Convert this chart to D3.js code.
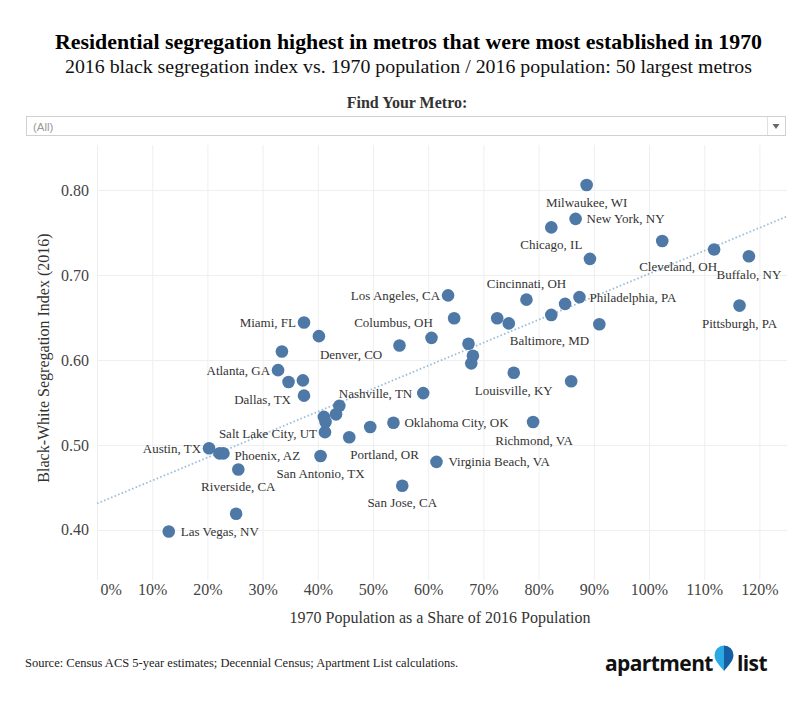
<!DOCTYPE html>
<html>
<head>
<meta charset="utf-8">
<script src="https://cdn.jsdelivr.net/npm/d3@7"></script>
<style>
  body { margin: 0; background: #fff; }
  svg text { font-family: "Liberation Serif", "Times New Roman", serif; }
</style>
</head>
<body>
<svg></svg>
<script>
var metros = [
  'Milwaukee, WI', 'New York, NY', 'Chicago, IL', 'Detroit, MI', 'Cleveland, OH',
  'Buffalo, NY', 'St. Louis, MO', 'Pittsburgh, PA', 'Cincinnati, OH', 'Philadelphia, PA',
  'Hartford, CT', 'Memphis, TN', 'Birmingham, AL', 'Baltimore, MD', 'New Orleans, LA',
  'Los Angeles, CA', 'Washington, DC', 'Indianapolis, IN', 'Columbus, OH', 'Kansas City, MO',
  'San Francisco, CA', 'Boston, MA', 'Louisville, KY', 'Providence, RI', 'Miami, FL',
  'Denver, CO', 'Houston, TX', 'Atlanta, GA', 'Tampa, FL', 'Jacksonville, FL',
  'Dallas, TX', 'Nashville, TN', 'Charlotte, NC', 'Sacramento, CA', 'Seattle, WA',
  'Minneapolis, MN', 'Salt Lake City, UT', 'Portland, OR', 'San Diego, CA', 'Oklahoma City, OK',
  'San Antonio, TX', 'Virginia Beach, VA', 'Richmond, VA', 'San Jose, CA', 'Austin, TX',
  'Orlando, FL', 'Phoenix, AZ', 'Riverside, CA', 'Raleigh, NC', 'Las Vegas, NV'
];

// 1970 population as a share of 2016 population
var share1970 = [
  0.887, 0.867, 0.823, 1.024, 1.118,
  1.181, 0.893, 1.164, 0.778, 0.874,
  0.848, 0.823, 0.725, 0.746, 0.910,
  0.636, 0.647, 0.606, 0.548, 0.673,
  0.681, 0.678, 0.755, 0.859, 0.375,
  0.402, 0.335, 0.328, 0.347, 0.373,
  0.375, 0.591, 0.439, 0.433, 0.411,
  0.414, 0.413, 0.457, 0.495, 0.537,
  0.405, 0.615, 0.790, 0.553, 0.203,
  0.222, 0.229, 0.256, 0.252, 0.130
];

// black-white segregation index (2016)
var segIndex = [
  0.806, 0.766, 0.756, 0.740, 0.730,
  0.722, 0.719, 0.664, 0.671, 0.674,
  0.666, 0.653, 0.649, 0.643, 0.642,
  0.676, 0.649, 0.626, 0.617, 0.619,
  0.605, 0.596, 0.585, 0.575, 0.644,
  0.628, 0.610, 0.588, 0.574, 0.576,
  0.558, 0.561, 0.546, 0.536, 0.533,
  0.527, 0.515, 0.509, 0.521, 0.526,
  0.487, 0.480, 0.527, 0.452, 0.496,
  0.490, 0.490, 0.471, 0.419, 0.398
];

var xTicks = [0, 0.1, 0.2, 0.3, 0.4, 0.5, 0.6, 0.7, 0.8, 0.9, 1.0, 1.1, 1.2];
var yTicks = [0.4, 0.5, 0.6, 0.7, 0.8];

// trend line
var trendX = [0, 1.25];
var trendY = [0.431, 0.769];

// which metros get a visible label, and where: [anchor, dx, dy]
var labelPos = {
  'Milwaukee, WI': ['middle', 0, 18],
  'New York, NY': ['start', 11, 0],
  'Chicago, IL': ['middle', 0, 17],
  'Cleveland, OH': ['end', 3, 17],
  'Buffalo, NY': ['middle', 0, 18],
  'Pittsburgh, PA': ['middle', 0, 18],
  'Cincinnati, OH': ['middle', 0, -16],
  'Philadelphia, PA': ['start', 10, 0],
  'Baltimore, MD': ['start', 1, 17],
  'Los Angeles, CA': ['end', -8, 0],
  'Columbus, OH': ['middle', -6, -23],
  'Louisville, KY': ['middle', 0, 17.5],
  'Miami, FL': ['end', -8, 0],
  'Denver, CO': ['start', 1, 18],
  'Atlanta, GA': ['end', -8, 0],
  'Dallas, TX': ['end', -13, 4],
  'Nashville, TN': ['end', -11, 0],
  'Salt Lake City, UT': ['end', -8, 1],
  'Portland, OR': ['start', 1, 17],
  'Oklahoma City, OK': ['start', 11, 0],
  'San Antonio, TX': ['middle', 0, 17],
  'Virginia Beach, VA': ['start', 12, 0],
  'Richmond, VA': ['middle', 1, 18],
  'San Jose, CA': ['middle', 0, 17],
  'Austin, TX': ['end', -8, 0],
  'Phoenix, AZ': ['start', 11, 2],
  'Riverside, CA': ['middle', 0, 17],
  'Las Vegas, NV': ['start', 12, 0]
};

var width = 800;
var height = 712;
var plot = { left: 97, right: 787, top: 145, bottom: 580 };

var svg = d3.select('svg')
  .attr('width', width)
  .attr('height', height);

svg.append('rect')
  .attr('width', width)
  .attr('height', height)
  .attr('fill', '#fff');

var points = metros.map(function(name, i) {
  return { name: name, x: share1970[i], y: segIndex[i] };
});

var xScale = d3.scaleLinear()
  .domain([0, 1.25])
  .range([plot.left, plot.right]);

var yScale = d3.scaleLinear()
  .domain([0.341, 0.853])
  .range([plot.bottom, plot.top]);

// titles
svg.append('text')
  .attr('x', 408.5)
  .attr('y', 49)
  .attr('text-anchor', 'middle')
  .attr('textLength', 707)
  .attr('lengthAdjust', 'spacingAndGlyphs')
  .style('font-size', '21px')
  .style('font-weight', 'bold')
  .attr('fill', '#000')
  .text('Residential segregation highest in metros that were most established in 1970');

svg.append('text')
  .attr('x', 408.5)
  .attr('y', 73)
  .attr('text-anchor', 'middle')
  .attr('textLength', 687)
  .attr('lengthAdjust', 'spacingAndGlyphs')
  .style('font-size', '19px')
  .attr('fill', '#111')
  .text('2016 black segregation index vs. 1970 population / 2016 population: 50 largest metros');

// filter box
svg.append('text')
  .attr('x', 407)
  .attr('y', 108)
  .attr('text-anchor', 'middle')
  .style('font-size', '16px')
  .style('font-weight', 'bold')
  .attr('fill', '#333')
  .text('Find Your Metro:');

var dd = svg.append('g').attr('class', 'dropdown');
dd.append('rect')
  .attr('x', 26.5).attr('y', 116.5)
  .attr('width', 759).attr('height', 19)
  .attr('fill', '#fff')
  .attr('stroke', '#d0d0d0');
dd.append('line')
  .attr('x1', 767.5).attr('x2', 767.5)
  .attr('y1', 117).attr('y2', 135)
  .attr('stroke', '#e0e0e0');
dd.append('text')
  .attr('x', 33).attr('y', 131)
  .style('font-family', '"Liberation Sans", Arial, sans-serif')
  .style('font-size', '11.5px')
  .attr('fill', '#999')
  .text('(All)');
dd.append('path')
  .attr('d', 'M772.5,124 L779.5,124 L776,129 Z')
  .attr('fill', '#666');

// gridlines
svg.append('g')
  .selectAll('line')
  .data(xTicks)
  .enter()
  .append('line')
    .attr('x1', d => xScale(d) + 0.5)
    .attr('x2', d => xScale(d) + 0.5)
    .attr('y1', plot.top)
    .attr('y2', plot.bottom)
    .attr('stroke', '#efefef');

svg.append('g')
  .selectAll('line')
  .data(yTicks)
  .enter()
  .append('line')
    .attr('x1', plot.left)
    .attr('x2', plot.right)
    .attr('y1', d => Math.round(yScale(d)) + 0.5)
    .attr('y2', d => Math.round(yScale(d)) + 0.5)
    .attr('stroke', '#efefef');

// axes
var xAxis = svg.append('g')
  .attr('class', 'x-axis')
  .attr('transform', `translate(0, ${plot.bottom})`)
  .call(d3.axisBottom(xScale).tickValues(xTicks).tickFormat(d3.format('.0%')).tickSize(0).tickPadding(4));
xAxis.select('.domain').remove();
xAxis.selectAll('text')
  .style('font-family', '"Liberation Serif", serif')
  .style('font-size', '16px')
  .attr('fill', '#444')
  .filter(d => d === 0)
    .attr('text-anchor', 'start')
    .attr('x', 3);

var yAxis = svg.append('g')
  .attr('class', 'y-axis')
  .attr('transform', `translate(${plot.left}, 0)`)
  .call(d3.axisLeft(yScale).tickValues(yTicks).tickFormat(d3.format('.2f')).tickSize(0).tickPadding(8));
yAxis.select('.domain').remove();
yAxis.selectAll('text')
  .style('font-family', '"Liberation Serif", serif')
  .style('font-size', '16px')
  .attr('fill', '#444');

svg.append('text')
  .attr('x', (plot.left + plot.right) / 2 - 2)
  .attr('y', 623)
  .attr('text-anchor', 'middle')
  .style('font-size', '16px')
  .attr('fill', '#333')
  .text('1970 Population as a Share of 2016 Population');

svg.append('text')
  .attr('transform', 'translate(49, 358) rotate(-90)')
  .attr('text-anchor', 'middle')
  .style('font-size', '16px')
  .attr('fill', '#333')
  .text('Black-White Segregation Index (2016)');

// trend line
svg.append('path')
  .datum(trendX.map((x, i) => [x, trendY[i]]))
  .attr('d', d3.line().x(d => xScale(d[0])).y(d => yScale(d[1])))
  .attr('fill', 'none')
  .attr('stroke', '#9dbfdc')
  .attr('stroke-width', 1.8)
  .attr('stroke-dasharray', '1.6,2.2');

// dots
svg.append('g')
  .selectAll('circle')
  .data(points)
  .enter()
  .append('circle')
    .attr('cx', d => xScale(d.x))
    .attr('cy', d => yScale(d.y))
    .attr('r', 6.3)
    .attr('fill', '#4e79a7');

// labels
svg.append('g')
  .selectAll('text')
  .data(points.filter(d => labelPos[d.name]))
  .enter()
  .append('text')
    .attr('x', d => xScale(d.x) + labelPos[d.name][1])
    .attr('y', d => yScale(d.y) + labelPos[d.name][2])
    .attr('dy', '0.35em')
    .attr('text-anchor', d => labelPos[d.name][0])
    .style('font-size', '13px')
    .attr('fill', '#333')
    .text(d => d.name);

// footer
svg.append('text')
  .attr('x', 25)
  .attr('y', 667)
  .style('font-size', '12.5px')
  .attr('fill', '#222')
  .text('Source: Census ACS 5-year estimates; Decennial Census; Apartment List calculations.');

var logo = svg.append('g').attr('class', 'logo');
var grad = svg.append('defs').append('linearGradient')
  .attr('id', 'pin')
  .attr('x1', '0').attr('x2', '1').attr('y1', '0').attr('y2', '0');
grad.append('stop').attr('offset', '0.5').attr('stop-color', '#2aa9e2');
grad.append('stop').attr('offset', '0.5').attr('stop-color', '#145fa6');

logo.append('text')
  .attr('x', 605)
  .attr('y', 671)
  .style('font-family', '"Open Sans", "DejaVu Sans", sans-serif')
  .style('font-weight', 'bold')
  .style('font-size', '21px')
  .style('letter-spacing', '-0.6px')
  .attr('fill', '#111')
  .text('apartment');
logo.append('path')
  .attr('d', 'M724,671 C719,665 714.5,660.5 714.5,655 A9.5,9.5 0 1,1 733.5,655 C733.5,660.5 729,665 724,671 Z')
  .attr('fill', 'url(#pin)');
logo.append('text')
  .attr('x', 737)
  .attr('y', 671)
  .style('font-family', '"Open Sans", "DejaVu Sans", sans-serif')
  .style('font-weight', 'bold')
  .style('font-size', '21px')
  .style('letter-spacing', '-0.6px')
  .attr('fill', '#111')
  .text('list');
</script>
</body>
</html>
